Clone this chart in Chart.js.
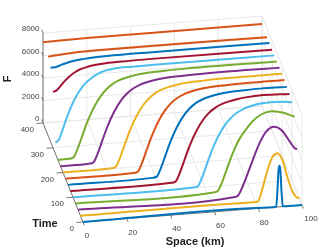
<!DOCTYPE html>
<html>
<head>
<meta charset="utf-8">
<script src="https://cdn.jsdelivr.net/npm/chart.js@4"></script>
<style>
  html, body { margin: 0; padding: 0; background: #fff; }
  canvas { display: block; }
</style>
</head>
<body>
<canvas id="chart" width="333" height="250"></canvas>
<script>
const spaceTicks = [0, 20, 40, 60, 80, 100];
const timeTicks = [0, 100, 200, 300, 400];
const fTicks = [0, 2000, 4000, 6000, 8000];

const curveColors = ['#0072BD', '#EDB120', '#7E2F8E', '#77AC30', '#4DBEEE', '#A2142F', '#0072BD', '#D95319',
  '#EDB120', '#7E2F8E', '#77AC30', '#4DBEEE', '#A2142F', '#0072BD', '#D95319', '#D95319'];
const times = [0, 25, 50, 75, 100, 125, 150, 175, 200, 225, 250, 275, 300, 325, 350, 400];

const s0 = [0, 87, 88.2, 88.8, 89.3, 89.7, 90.1, 90.6, 91.2, 92, 100];
const f0 = [0, 0, 50, 1500, 3300, 3650, 3300, 1500, 50, 0, 0];
const s25 = [0, 79, 81, 83, 85.5, 87.8, 90, 92.3, 94.5, 96.8, 98.5, 100];
const f25 = [0, 10, 60, 1100, 2850, 3950, 4200, 3500, 2000, 700, 180, 60];
const s50 = [0, 71, 73, 75, 77, 79, 81, 83, 86, 89.5, 93, 96.5, 99, 100];
const f50 = [0, 30, 130, 850, 1800, 2800, 3800, 4700, 5650, 6020, 5650, 4650, 3950, 3850];
const s75 = [0, 63, 65, 67, 69, 71, 73, 75, 78, 81, 84, 87, 90.3, 95, 100];
const f75 = [0, 30, 130, 900, 1950, 3000, 3900, 4650, 5450, 6100, 6550, 6780, 6830, 6620, 6200];
const s100 = [0, 55, 57, 59, 61, 63, 65, 67, 69.5, 72, 75, 78, 81, 85, 90, 95, 100];
const f100 = [0, 40, 120, 900, 1950, 3000, 3900, 4650, 5400, 5950, 6400, 6680, 6860, 7020, 7090, 7050, 6930];
const s125 = [0, 46, 48, 50, 52, 54, 56, 58, 60.5, 63, 66, 69, 72, 76, 80, 88, 100];
const f125 = [0, 40, 120, 900, 1950, 3000, 3900, 4650, 5400, 5950, 6400, 6680, 6860, 7020, 7120, 7200, 7120];
const s150 = [0, 38.5, 40.5, 42.5, 44.5, 46.5, 48.5, 50.5, 53, 55.5, 58.5, 61.5, 64.5, 68.5, 72.5, 80.5, 90, 100];
const f150 = [0, 40, 120, 900, 1950, 3000, 3900, 4650, 5400, 5950, 6400, 6680, 6860, 7020, 7120, 7200, 7240, 7200];
const s175 = [0, 31, 33, 35, 37, 39, 41, 43, 45.5, 48, 51, 54, 57, 61, 65, 73, 83, 100];
const f175 = [0, 40, 120, 900, 1950, 3000, 3900, 4650, 5400, 5950, 6400, 6680, 6860, 7020, 7120, 7200, 7250, 7260];
const s200 = [0, 22, 24, 26, 28, 30, 32, 34, 36.5, 39, 42, 45, 48, 52, 56, 64, 74, 100];
const f200 = [0, 40, 120, 900, 1950, 3000, 3900, 4650, 5400, 5950, 6400, 6680, 6860, 7020, 7120, 7200, 7250, 7260];
const s225 = [0, 13, 15, 17, 19, 21, 23, 25, 27.5, 30, 33, 36, 39, 43, 47, 55, 65, 100];
const f225 = [0, 40, 120, 900, 1950, 3000, 3900, 4650, 5400, 5950, 6400, 6680, 6860, 7020, 7120, 7200, 7250, 7260];
const s250 = [0, 5, 7, 9, 11, 13, 15, 17, 19.5, 22, 25, 28, 31, 35, 39, 47, 57, 100];
const f250 = [20, 40, 120, 900, 1950, 3000, 3900, 4650, 5400, 5950, 6400, 6680, 6860, 7020, 7120, 7200, 7250, 7260];
const s275 = [0, 1.5, 3, 4.5, 6.5, 8.5, 11, 13.5, 16.5, 19.5, 23, 27, 35, 45, 100];
const f275 = [1000, 1230, 1950, 2800, 3800, 4650, 5450, 6050, 6500, 6850, 7080, 7190, 7230, 7250, 7250];
const s300 = [0, 1.5, 3.5, 5.5, 7.5, 9.5, 12, 15, 19, 24, 32, 45, 100];
const f300 = [4980, 5050, 5450, 5880, 6230, 6500, 6750, 6920, 7060, 7140, 7190, 7220, 7200];
const s325 = [0, 2, 4, 6, 9, 13, 18, 26, 45, 100];
const f325 = [6570, 6570, 6680, 6800, 6960, 7080, 7160, 7210, 7240, 7250];
const s350 = [0, 11.5, 26.7, 46.6, 100];
const f350 = [7000, 7170, 7230, 7250, 7220];
const s400 = [0, 20, 49, 100];
const f400 = [7180, 7250, 7260, 7290];

const curveSpace = [s0, s25, s50, s75, s100, s125, s150, s175, s200, s225, s250, s275, s300, s325, s350, s400];
const curveF = [f0, f25, f50, f75, f100, f125, f150, f175, f200, f225, f250, f275, f300, f325, f350, f400];

// fixed MATLAB-like view of the box, space/time/F to canvas position
function project(s, t, f) {
  return { x: 83 + 2.19 * s - 0.1 * t, y: 222 - 0.17 * s - 0.2475 * t - 0.01125 * f };
}

const datasets = [];

function addLine(points, color, width, order) {
  datasets.push({
    data: points, borderColor: color, borderWidth: width, order: order,
    showLine: true, pointRadius: 0, fill: false
  });
}

// grid on floor, back wall and right wall
spaceTicks.forEach(s => {
  addLine([project(s, 0, 0), project(s, 400, 0)], '#e8e8e8', 1, 100);
  addLine([project(s, 400, 0), project(s, 400, 8000)], '#e8e8e8', 1, 100);
});
timeTicks.forEach(t => {
  addLine([project(0, t, 0), project(100, t, 0)], '#e8e8e8', 1, 100);
  addLine([project(100, t, 0), project(100, t, 8000)], '#e8e8e8', 1, 100);
});
fTicks.forEach(f => {
  addLine([project(0, 400, f), project(100, 400, f)], '#e8e8e8', 1, 100);
  addLine([project(100, 400, f), project(100, 0, f)], '#e8e8e8', 1, 100);
});

// axis lines and tick marks
addLine([project(0, 400, 0), project(0, 400, 8000)], '#777', 1, 90);
addLine([project(0, 0, 0), project(0, 400, 0)], '#777', 1, 90);
addLine([project(0, 0, 0), project(100, 0, 0)], '#777', 1, 90);
spaceTicks.forEach(s => addLine([project(s, 0, 0), project(s, -14, 0)], '#777', 1, 90));
timeTicks.forEach(t => addLine([project(0, t, 0), project(-3, t, 0)], '#777', 1, 90));
fTicks.forEach(f => addLine([project(0, 400, f), project(0, 414, f)], '#777', 1, 90));

times.forEach((t, i) => {
  const points = curveSpace[i].map((s, j) => project(s, t, curveF[i][j]));
  datasets.push({
    data: points, borderColor: curveColors[i], borderWidth: 2, order: 16 - i,
    showLine: true, pointRadius: 0, fill: false, cubicInterpolationMode: 'monotone'
  });
});

const textPlugin = {
  id: 'boxText',
  afterDraw(chart) {
    const ctx = chart.ctx;
    const X = chart.scales.x, Y = chart.scales.y;
    function text(str, p, dx, dy, align, font, color) {
      ctx.font = font;
      ctx.fillStyle = color;
      ctx.textAlign = align;
      ctx.textBaseline = 'middle';
      ctx.fillText(str, X.getPixelForValue(p.x) + dx, Y.getPixelForValue(p.y) + dy);
    }
    ctx.save();
    const tickFont = '8px "Liberation Sans"';
    const tickColor = '#444';
    spaceTicks.forEach(s => text(String(s), project(s, 0, 0), s === 0 ? 4 : (s === 100 ? 9 : 6), 14, 'center', tickFont, tickColor));
    timeTicks.forEach(t => text(String(t), project(0, t, 0), -9, 7, 'right', tickFont, tickColor));
    fTicks.forEach(f => text(String(f), project(0, 400, f), -3.5, -4, 'right', tickFont, tickColor));
    const boldFont = 'bold 11px "Liberation Sans"';
    text('Space (km)', { x: 195, y: 242 }, 0, 0, 'center', boldFont, '#222');
    text('Time', { x: 45, y: 224 }, 0, 0, 'center', boldFont, '#222');
    ctx.translate(8, 79);
    ctx.rotate(-Math.PI / 2);
    ctx.font = boldFont;
    ctx.fillStyle = '#222';
    ctx.textAlign = 'center';
    ctx.textBaseline = 'middle';
    ctx.fillText('F', 0, 0);
    ctx.restore();
  }
};

new Chart(document.getElementById('chart'), {
  type: 'scatter',
  data: { datasets },
  options: {
    responsive: false,
    animation: false,
    layout: { padding: 0 },
    clip: false,
    plugins: { legend: { display: false }, tooltip: { enabled: false } },
    scales: {
      x: { type: 'linear', min: 0, max: 333, display: false },
      y: { type: 'linear', min: 0, max: 250, reverse: true, display: false }
    }
  },
  plugins: [textPlugin]
});
</script>
</body>
</html>
